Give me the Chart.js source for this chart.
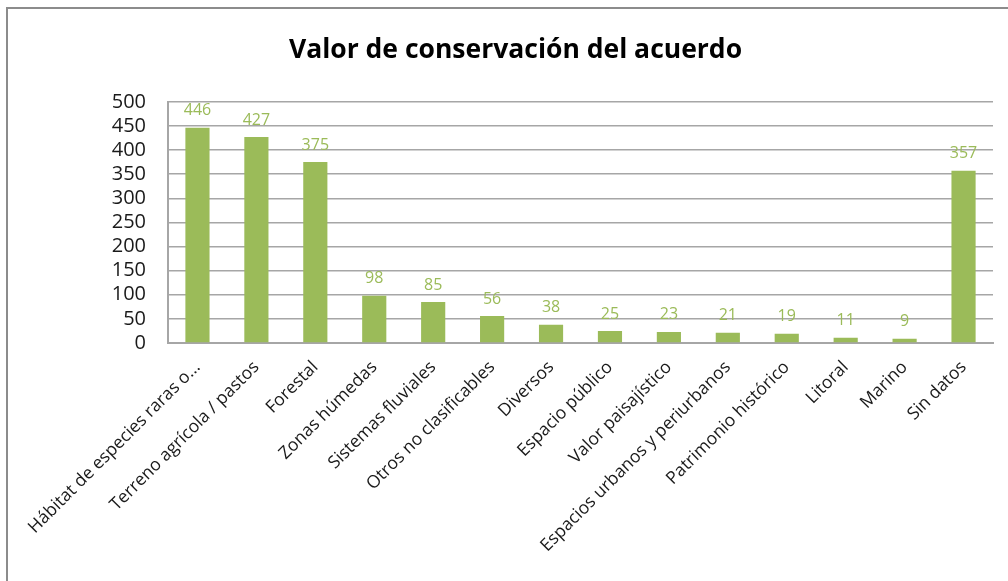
<!DOCTYPE html>
<html>
<head>
<meta charset="utf-8">
<script src="https://cdn.jsdelivr.net/npm/chart.js@4/dist/chart.umd.min.js"></script>
<style>
  html, body { margin: 0; padding: 0; background: #fff; }
  #wrap { position: relative; width: 1008px; height: 581px; overflow: hidden; }
  #frame { position: absolute; left: 6px; top: 7px; right: -10px; bottom: -10px;
           border-top: 2px solid #8c8c8c; border-left: 2px solid #8c8c8c; }
  canvas { position: absolute; left: 0; top: 0; }
</style>
</head>
<body>
<div id="wrap">
  <div id="frame"></div>
  <canvas id="chart" width="1008" height="581"></canvas>
</div>
<script>
const categories = [
  'Hábitat de especies raras o...',
  'Terreno agrícola / pastos',
  'Forestal',
  'Zonas húmedas',
  'Sistemas fluviales',
  'Otros no clasificables',
  'Diversos',
  'Espacio público',
  'Valor paisajístico',
  'Espacios urbanos y periurbanos',
  'Patrimonio histórico',
  'Litoral',
  'Marino',
  'Sin datos',
];
const values = [446, 427, 375, 98, 85, 56, 38, 25, 23, 21, 19, 11, 9, 357];
const yTicks = [0, 50, 100, 150, 200, 250, 300, 350, 400, 450, 500];

const green = '#9BBB59';

// simple value labels above each bar
const barValues = {
  id: 'barValues',
  afterDatasetsDraw(chart) {
    const ctx = chart.ctx;
    const meta = chart.getDatasetMeta(0);
    ctx.save();
    ctx.fillStyle = green;
    ctx.font = '16px "Open Sans"';
    ctx.textAlign = 'center';
    ctx.textBaseline = 'bottom';
    meta.data.forEach((bar, i) => {
      ctx.fillText(String(values[i]), bar.x, bar.y - 9);
    });
    ctx.restore();
  },
};

new Chart('chart', {
  type: 'bar',
  data: {
    labels: categories,
    datasets: [
      {
        label: 'Valor de conservación del acuerdo',
        data: values,
        backgroundColor: green,
        borderWidth: 0,
        barPercentage: 0.41,
        categoryPercentage: 1,
      },
    ],
  },
  options: {
    responsive: false,
    animation: false,
    layout: { padding: { left: 38, right: 15, top: 0, bottom: 0 } },
    plugins: {
      legend: { display: false },
      tooltip: { enabled: false },
      title: {
        display: true,
        text: 'Valor de conservación del acuerdo',
        color: '#000',
        font: { family: '"Open Sans"', size: 26.5, weight: 'bold' },
        padding: { top: 35, bottom: 35 },
      },
    },
    scales: {
      y: {
        min: 0,
        max: 500,
        afterFit: (scale) => { scale.width = 130; },
        afterBuildTicks: (scale) => { scale.ticks = yTicks.map((v) => ({ value: v })); },
        ticks: {
          color: '#1a1a1a',
          padding: 22,
          autoSkip: false,
          font: { family: '"Open Sans"', size: 20 },
        },
        grid: { color: '#a6a6a6', lineWidth: 1.5, drawTicks: false },
        border: { color: '#a6a6a6', width: 2 },
      },
      x: {
        afterFit: (scale) => { scale.height = 238; },
        ticks: {
          color: '#1a1a1a',
          minRotation: 45,
          maxRotation: 45,
          padding: 6,
          autoSkip: false,
          font: { family: '"Open Sans"', size: 17.5 },
        },
        grid: { display: false },
        border: { color: '#a6a6a6', width: 2 },
      },
    },
  },
  plugins: [barValues],
});
</script>
</body>
</html>
